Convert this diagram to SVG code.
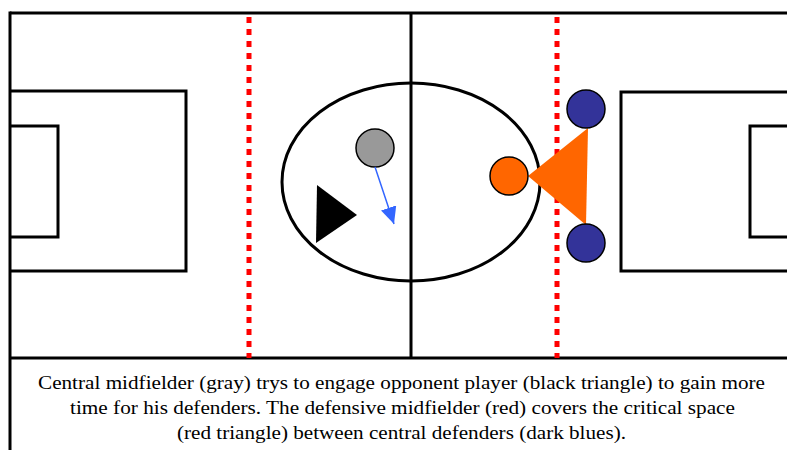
<svg xmlns="http://www.w3.org/2000/svg" width="787" height="450" viewBox="0 0 787 450">
<style>
.ln{stroke:#000;stroke-width:3;fill:none}
.dot{stroke:#ff0000;stroke-width:5;stroke-dasharray:6 6;fill:none}
.pl{stroke:#000;stroke-width:1.5}
.cap{font-family:"Liberation Serif","Times New Roman",serif;font-size:18px;fill:#000}
</style>
<defs>
<marker id="ah" markerWidth="17" markerHeight="16" refX="17" refY="8" orient="auto" markerUnits="userSpaceOnUse" viewBox="0 0 17 16">
<path d="M0,0 L17,8 L0,16 Z" fill="#3366ff"/>
</marker>
</defs>
<rect width="787" height="450" fill="#fff"/>
<g id="field">
<line class="ln" x1="10" y1="13" x2="787" y2="13"/>
<line class="ln" x1="10" y1="11.5" x2="10" y2="450"/>
<line class="ln" x1="10" y1="358" x2="787" y2="358"/>
<line class="ln" x1="411" y1="13" x2="411" y2="358"/>
<polyline class="ln" points="10,91 186,91 186,271 10,271"/>
<polyline class="ln" points="10,126 58,126 58,237 10,237"/>
<polyline class="ln" points="787,92 621,92 621,271 787,271"/>
<polyline class="ln" points="787,126 750,126 750,237 787,237"/>
<ellipse class="ln" cx="411" cy="182" rx="129" ry="99"/>
<line class="dot" x1="249" y1="17" x2="249" y2="358"/>
<line class="dot" x1="557" y1="17" x2="557" y2="358"/>
</g>
<g id="red-triangle"><polygon points="528,176 588,128 586,225" fill="#ff6600"/></g>
<g id="gray-player"><circle class="pl" cx="375" cy="148" r="19" fill="#999999"/></g>
<g id="opponent"><polygon points="317,185 357,215 316,243" fill="#000"/></g>
<g id="orange-player"><circle class="pl" cx="509" cy="176" r="19" fill="#ff6600"/></g>
<g id="defender-top"><circle class="pl" cx="586" cy="109" r="19" fill="#333399"/></g>
<g id="defender-bottom"><circle class="pl" cx="586" cy="243" r="19" fill="#333399"/></g>
<g id="connectors">
<line x1="375" y1="167" x2="394" y2="224" stroke="#3366ff" stroke-width="1.5" marker-end="url(#ah)"/>
</g>
<g id="caption">
<text class="cap" x="38" y="389" textLength="727" lengthAdjust="spacingAndGlyphs">Central midfielder (gray) trys to engage opponent player (black triangle) to gain more</text>
<text class="cap" x="70" y="414" textLength="665" lengthAdjust="spacingAndGlyphs">time for his defenders. The defensive midfielder (red) covers the critical space</text>
<text class="cap" x="177" y="439" textLength="449" lengthAdjust="spacingAndGlyphs">(red triangle) between central defenders (dark blues).</text>
</g>
</svg>
